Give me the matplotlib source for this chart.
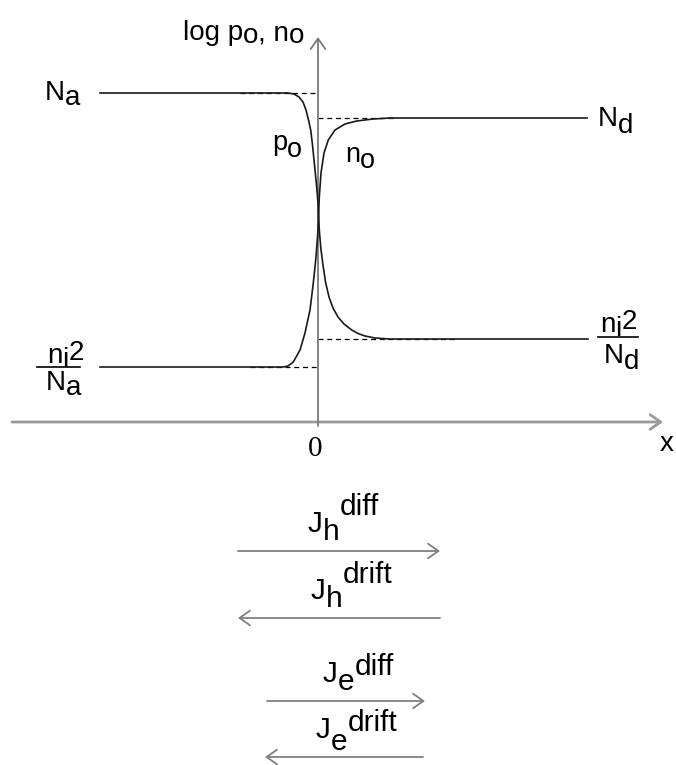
import matplotlib.pyplot as plt

plt.rcParams['font.family'] = 'Liberation Sans'

# x: position from the junction, y: log concentration (same units, 1 unit = 1 px)
na_level = 329
nd_level = 304
ni2_nd_level = 83
ni2_na_level = 55

# hole concentration p0 across the junction
p0_x = [-218, -30, -24, -19, -15, -12, -9.5, -7.3, -5.5, -3.7, -1.3, 0, 1.3, 2.8,
        4.7, 7.5, 11, 15, 20, 26, 33.7, 40, 47, 57, 72, 270]
p0_y = [329, 329, 328, 325, 320, 312, 302, 292, 277, 259, 235, 219, 192, 174,
        159, 140, 125, 114, 105, 98, 92, 88.5, 86, 84, 83, 83]

# electron concentration n0
n0_x = [-218, -35, -30, -24.7, -18, -13, -8, -4.7, -2, 0, 1.3, 3, 6, 10.3,
        17, 27, 38.7, 55, 72, 269]
n0_y = [55, 55, 56, 60, 72, 89, 112, 139, 165, 192, 225, 249, 269, 282,
        292, 298, 301, 303, 304, 304]

# dashed guides from the axis to where each curve levels off
guide_x0 = [-78, 0, 0, -68]
guide_x1 = [0, 77, 137, 0]
guide_y = [na_level, nd_level, ni2_nd_level, ni2_na_level]

# current components: (symbol, subscript, superscript), arrow start/end, height
flux_names = [('J', 'h', 'diff'), ('J', 'h', 'drift'), ('J', 'e', 'diff'), ('J', 'e', 'drift')]
flux_start = [-80, 122, -51, 105]
flux_end = [122, -80, 107, -53]
flux_y = [-129, -196, -279, -335]

fig = plt.figure(figsize=(6.76, 7.65), dpi=100)
ax = fig.add_axes([0, 0, 1, 1])
ax.set_xlim(-318, 358)
ax.set_ylim(-343, 422)
ax.axis('off')


def chain(x, y, parts, size=20, family=None):
    # parts = [(text, shift down in px)], each piece placed right after the previous one
    s, d0 = parts[0]
    t = ax.text(x, y - d0, s, fontsize=size, ha='left', va='baseline', family=family)
    prev = d0
    for s, d in parts[1:]:
        t = ax.annotate(s, xy=(1, 0), xycoords=t, xytext=(0, prev - d),
                        textcoords='offset pixels', fontsize=size,
                        ha='left', va='bottom', family=family)
        prev = d
    return t


# axes with open arrow heads
ax.annotate('', xy=(345, 0), xytext=(-306, 0),
            arrowprops=dict(arrowstyle='->,head_length=0.5,head_width=0.35',
                            mutation_scale=15, color='#9a9a9a', lw=2.0,
                            shrinkA=0, shrinkB=0))
ax.annotate('', xy=(0, 385), xytext=(0, -4),
            arrowprops=dict(arrowstyle='->,head_length=0.5,head_width=0.35',
                            mutation_scale=15, color='#7a7a7a', lw=1.3,
                            shrinkA=0, shrinkB=0), zorder=3)

# dashed guides
for x0, x1, y in zip(guide_x0, guide_x1, guide_y):
    ax.plot([x0, x1], [y, y], color='black', lw=0.9, ls=(0, (4, 3)), zorder=2)

# the two carrier profiles
ax.plot(p0_x, p0_y, color='#1a1a1a', lw=1.2, solid_joinstyle='round', zorder=4)
ax.plot(n0_x, n0_y, color='#1a1a1a', lw=1.2, solid_joinstyle='round', zorder=4)

# labels
chain(-135, 382, [('log p', 0), ('o', 3), (', n', 0), ('o', 3)], size=20)
chain(-46, 272, [('p', 0), ('o', 7)], size=19.5)
chain(27, 260, [('n', 0), ('o', 6)], size=19.5)
chain(-273, 322, [('N', 0), ('a', 5)])
chain(280, 296, [('N', 0), ('d', 7)])

# ni^2 / Nd
chain(282, 90, [('n', 0), ('i', 4), ('2', -3)])
ax.plot([280, 320], [85, 85], color='black', lw=1.2)
chain(286, 59, [('N', 0), ('d', 6)])

# ni^2 / Na
chain(-271, 59, [('n', 0), ('i', 4), ('2', -3)])
ax.plot([-281, -238], [55, 55], color='black', lw=1.2)
chain(-272, 32, [('N', 0), ('a', 5)])

ax.text(-3, -34, '0', fontsize=21, family='Liberation Serif', ha='center', va='baseline')
ax.text(342, -29, 'x', fontsize=20, ha='left', va='baseline')

# current arrows below the diagram
label_x = [-10, -7, 5, -2]
sub_shift = [8, 8, 8, 12]
sup_shift = [-17, -16, -7, -7]
for (j, sub, sup), x0, x1, y, lx, ds, du in zip(flux_names, flux_start, flux_end, flux_y,
                                               label_x, sub_shift, sup_shift):
    ax.annotate('', xy=(x1, y), xytext=(x0, y),
                arrowprops=dict(arrowstyle='->,head_length=0.5,head_width=0.35',
                                mutation_scale=15, color='#808080', lw=1.3,
                                shrinkA=0, shrinkB=0))
    chain(lx, y + 19, [(j, 0), (sub, ds), (sup, du)], size=21.5)

fig.savefig('out.png', dpi=100)
